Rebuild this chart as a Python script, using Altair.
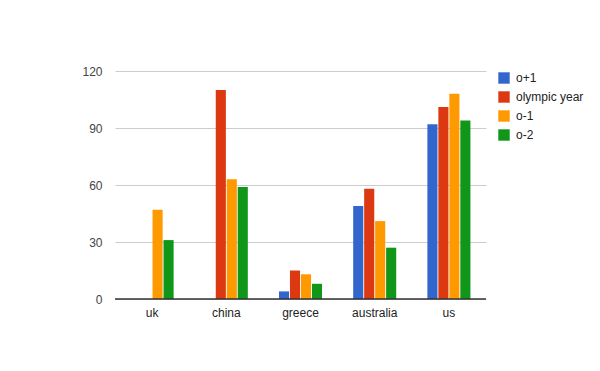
import altair as alt
import pandas as pd

countries = ["uk", "china", "greece", "australia", "us"]
series = ["o+1", "olympic year", "o-1", "o-2"]
colors = ["#3366cc", "#dc3912", "#ff9900", "#109618"]
o_plus_1 = [0, 0, 4, 49, 92]
olympic_year = [0, 110, 15, 58, 101]
o_minus_1 = [47, 63, 13, 41, 108]
o_minus_2 = [31, 59, 8, 27, 94]

rows = []
for s, vals in zip(series, [o_plus_1, olympic_year, o_minus_1, o_minus_2]):
    for c, v in zip(countries, vals):
        rows.append({"country": c, "series": s, "value": v})
df = pd.DataFrame(rows)

FONT = "Liberation Sans"

bars = alt.Chart(df).mark_bar().encode(
    x=alt.X("country:N", sort=countries,
            scale=alt.Scale(paddingInner=0.42, paddingOuter=0.21),
            axis=alt.Axis(title=None, labelAngle=0, domain=False, ticks=False,
                          labelFont=FONT, labelFontSize=12, labelColor="#222222",
                          labelPadding=8, grid=False)),
    xOffset=alt.XOffset("series:N", sort=series,
                        scale=alt.Scale(paddingInner=0.08)),
    y=alt.Y("value:Q",
            scale=alt.Scale(domain=[0, 120], nice=False),
            axis=alt.Axis(title=None, values=[0, 30, 60, 90, 120], domain=False,
                          ticks=False, labelFont=FONT, labelFontSize=12,
                          labelColor="#444444", labelPadding=13,
                          gridColor="#cccccc", gridWidth=1)),
    color=alt.Color("series:N", sort=series,
                    scale=alt.Scale(domain=series, range=colors),
                    legend=alt.Legend(title=None, orient="none", legendX=383, legendY=1,
                                      symbolType="square", symbolSize=130,
                                      symbolStrokeWidth=0, labelFont=FONT,
                                      labelFontSize=12, labelColor="#222222",
                                      rowPadding=7, labelOffset=6)),
)

baseline = alt.Chart(pd.DataFrame({"v": [0]})).mark_rule(color="#333333", strokeWidth=1.3).encode(
    y="v:Q"
)

chart = alt.layer(bars, baseline).properties(
    width=371, height=228,
    padding={"left": 115, "top": 71, "right": 114, "bottom": 72},
    autosize=alt.AutoSizeParams(type="none"),
    background="white",
).configure_view(stroke=None)

chart.save("out.html", embed_options={"renderer": "svg", "actions": False})
